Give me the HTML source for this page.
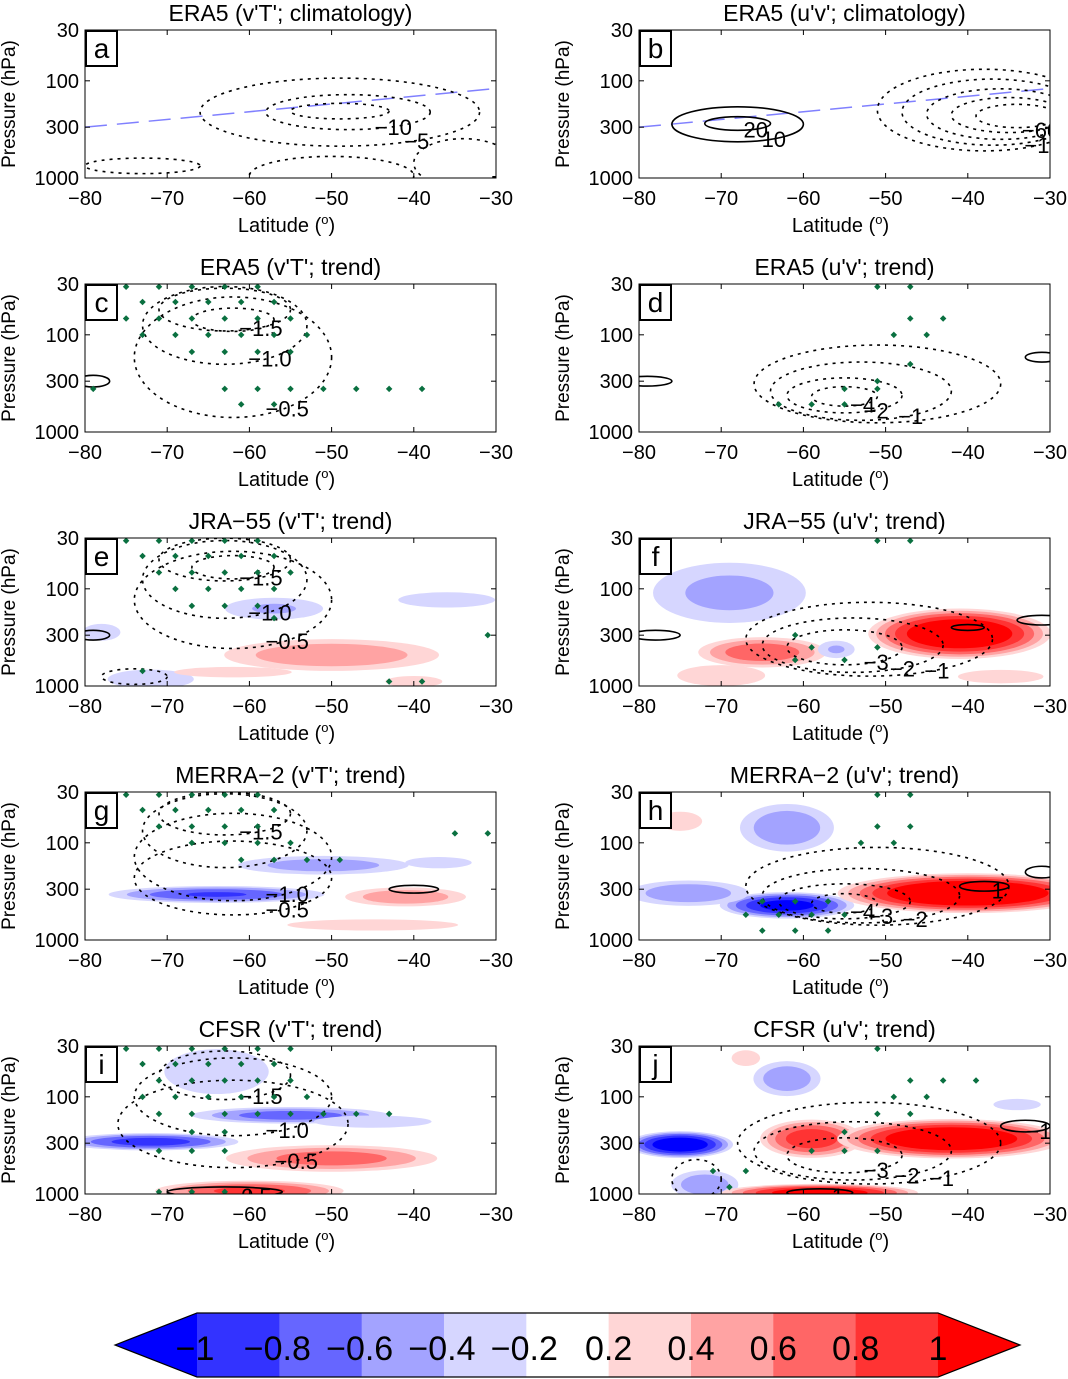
<!DOCTYPE html>
<html><head><meta charset="utf-8">
<style>
html,body{margin:0;padding:0;background:#fff;}
svg{display:block;font-family:"Liberation Sans",sans-serif;}
</style></head>
<body>
<svg id="fig" width="1068" height="1379" viewBox="0 0 1068 1379" xmlns="http://www.w3.org/2000/svg"></svg>
<script>
// ---- data ----
const panelLetters = ["a","b","c","d","e","f","g","h","i","j"];
const panelTitles = ["ERA5 (v'T'; climatology)","ERA5 (u'v'; climatology)","ERA5 (v'T'; trend)","ERA5 (u'v'; trend)","JRA\u221255 (v'T'; trend)","JRA\u221255 (u'v'; trend)","MERRA\u22122 (v'T'; trend)","MERRA\u22122 (u'v'; trend)","CFSR (v'T'; trend)","CFSR (u'v'; trend)"];
const latTicks = [-80,-70,-60,-50,-40,-30];
const presTicks = [30,100,300,1000];
const cbarLabels = ["\u22121","\u22120.8","\u22120.6","\u22120.4","\u22120.2","0.2","0.4","0.6","0.8","1"];
// shading blobs per panel: [lat, pressure, halfWidthDeg, halfHeightDecades, peakValue]
const shadeA = [];
const shadeB = [];
const shadeC = [];
const shadeD = [];
const shadeE = [[-57,160,8,0.15,-0.45],[-36,130,9,0.12,-0.35],[-50,480,16,0.2,0.6],[-78,280,4,0.15,-0.3],[-72,850,8,0.15,-0.35],[-62,720,16,0.12,0.25],[-40,900,6,0.1,0.3]];
const shadeF = [[-69,110,12,0.4,-0.5],[-41,290,12,0.28,1.4],[-65,450,9,0.18,0.8],[-56,420,3,0.12,-0.45],[-36,800,9,0.12,0.3],[-70,780,10,0.2,0.28]];
const shadeG = [[-64,340,15,0.1,-0.85],[-51,170,13,0.12,-0.55],[-41,360,9,0.12,0.6],[-45,700,18,0.1,0.3],[-37,160,7,0.1,-0.3]];
const shadeH = [[-62,440,9,0.15,-1.15],[-74,330,9,0.16,-0.6],[-62,70,7,0.3,-0.6],[-40,330,17,0.22,1.5],[-75,60,6,0.22,0.25]];
const shadeI = [[-72,290,12,0.1,-0.95],[-55,155,14,0.1,-0.75],[-64,55,11,0.4,-0.3],[-50,430,15,0.16,0.75],[-60,930,13,0.12,0.9],[-45,180,16,0.14,-0.25]];
const shadeJ = [[-75,310,7,0.15,-1.3],[-72,800,5,0.18,-0.6],[-62,65,5,0.22,-0.6],[-59,270,7,0.22,1.0],[-42,270,15,0.22,1.4],[-58,970,13,0.1,1.25],[-67,40,3,0.14,0.3],[-34,120,5,0.1,-0.3]];
// contours per panel: [lat, pressure, halfWidthDeg, halfHeightDecades, dashed, label]
const contA = [[-49,210,17,0.35,1,"\u22125"],[-48,210,10,0.18,1,"\u221210"],[-49,205,6,0.08,1,""],[-50,950,10,0.2,1,"\u221215"],[-73,750,7,0.08,1,""],[-34,700,6,0.25,1,"\u22125"]];
const contB = [[-68,280,8,0.18,0,"10"],[-68,275,4,0.07,0,"20"],[-38,200,13,0.42,1,"\u221210"],[-37,210,11,0.34,1,""],[-36,220,9,0.26,1,""],[-35,225,7,0.18,1,"\u221260"],[-34,230,5,0.12,1,""]];
const contC = [[-63,55,8,0.22,1,"\u22121.5"],[-62,70,5,0.12,1,""],[-63,80,10,0.4,1,"\u22121.0"],[-62,170,12,0.62,1,"\u22120.5"],[-79,300,2,0.06,0,""]];
const contD = [[-51,320,15,0.4,1,""],[-53,380,11,0.3,1,"\u22121"],[-55,420,7,0.18,1,"\u22122"],[-55,430,4,0.1,1,"\u22124"],[-79,300,3,0.05,0,""],[-31,170,2,0.05,0,""]];
const contE = [[-63,50,8,0.22,1,"\u22121.5"],[-62,60,5,0.12,1,""],[-63,80,10,0.4,1,"\u22121.0"],[-62,130,12,0.5,1,"\u22120.5"],[-74,800,4,0.08,1,""],[-79,300,2,0.05,0,""]];
const contF = [[-52,330,15,0.38,1,"\u22121"],[-54,380,11,0.28,1,"\u22122"],[-55,400,7,0.18,1,"\u22123"],[-78,300,3,0.05,0,""],[-31,210,3,0.05,0,""],[-40,250,2,0.03,0,""]];
const contG = [[-63,50,8,0.22,1,"\u22121.5"],[-63,75,10,0.38,1,""],[-62,140,12,0.45,1,"\u22121.0"],[-62,230,12,0.38,1,"\u22120.5"],[-40,300,3,0.04,0,""]];
const contH = [[-51,280,16,0.4,1,""],[-53,350,12,0.28,1,"\u22122"],[-55,400,8,0.18,1,"\u22123"],[-55,420,4,0.1,1,"\u22124"],[-38,280,3,0.05,0,"1"],[-31,200,2,0.06,0,""]];
const contI = [[-63,60,8,0.25,1,"\u22121.5"],[-62,100,12,0.4,1,"\u22121.0"],[-62,190,14,0.45,1,"\u22120.5"],[-63,950,7,0.05,0,"0.5"]];
const contJ = [[-52,300,16,0.42,1,"\u22121"],[-54,360,12,0.3,1,"\u22122"],[-55,400,7,0.18,1,"\u22123"],[-73,700,3,0.2,1,""],[-58,970,4,0.04,0,"1"],[-33,200,3,0.06,0,"\u22121"]];
// significance dots per panel: [lat, pressure]
const dotsA = [];
const dotsB = [];
const dotsC = [[-75,32],[-71,32],[-67,32],[-63,32],[-59,32],[-73,46],[-69,46],[-65,46],[-61,46],[-57,46],[-75,68],[-71,68],[-67,68],[-63,68],[-59,68],[-55,68],[-73,100],[-69,100],[-65,100],[-61,100],[-57,100],[-53,100],[-67,150],[-63,150],[-59,150],[-55,150],[-79,360],[-63,360],[-59,360],[-55,360],[-51,360],[-47,360],[-43,360],[-39,360],[-61,520],[-57,520]];
const dotsD = [[-51,32],[-47,32],[-47,68],[-43,68],[-49,100],[-45,100],[-47,200],[-51,300],[-55,360],[-51,360],[-59,520],[-55,520],[-63,520]];
const dotsE = [[-75,32],[-71,32],[-67,32],[-63,32],[-59,32],[-73,46],[-69,46],[-65,46],[-61,46],[-57,46],[-71,68],[-67,68],[-63,68],[-59,68],[-55,68],[-69,100],[-65,100],[-61,100],[-57,100],[-67,150],[-63,150],[-59,150],[-57,200],[-31,300],[-73,700],[-43,900],[-39,900]];
const dotsF = [[-51,32],[-47,32],[-61,300],[-59,400],[-51,400],[-61,540],[-55,540]];
const dotsG = [[-75,32],[-71,32],[-67,32],[-63,32],[-59,32],[-73,46],[-69,46],[-65,46],[-61,46],[-57,46],[-71,68],[-67,68],[-63,68],[-59,68],[-67,100],[-63,100],[-59,100],[-55,100],[-61,150],[-57,150],[-53,150],[-49,150],[-35,80],[-31,80]];
const dotsH = [[-51,32],[-47,32],[-51,68],[-47,68],[-53,100],[-49,100],[-65,400],[-61,400],[-57,400],[-67,550],[-63,550],[-59,550],[-55,550],[-65,800],[-61,800],[-57,800]];
const dotsI = [[-75,32],[-71,32],[-67,32],[-63,32],[-59,32],[-55,32],[-79,46],[-73,46],[-69,46],[-65,46],[-61,46],[-57,46],[-71,68],[-67,68],[-63,68],[-59,68],[-55,68],[-73,100],[-69,100],[-65,100],[-61,100],[-57,100],[-53,100],[-71,150],[-67,150],[-63,150],[-59,150],[-55,150],[-51,150],[-47,150],[-43,150],[-67,230],[-63,230],[-71,360],[-67,360],[-63,360],[-71,950],[-67,950],[-63,950]];
const dotsJ = [[-51,32],[-47,68],[-43,68],[-39,68],[-49,100],[-45,100],[-51,150],[-47,150],[-55,230],[-59,360],[-55,360],[-51,360],[-71,580],[-67,580],[-69,850]];
const tropoA = [[-80,300],[-30,120]];
const tropoB = [[-80,300],[-30,120]];

const shades=[shadeA,shadeB,shadeC,shadeD,shadeE,shadeF,shadeG,shadeH,shadeI,shadeJ];
const conts=[contA,contB,contC,contD,contE,contF,contG,contH,contI,contJ];
const dots=[dotsA,dotsB,dotsC,dotsD,dotsE,dotsF,dotsG,dotsH,dotsI,dotsJ];
const tropos=[tropoA,tropoB];

const NS="http://www.w3.org/2000/svg";
const svg=document.getElementById('fig');
function mk(tag,attrs,parent){const e=document.createElementNS(NS,tag);for(const k in attrs)e.setAttribute(k,attrs[k]);(parent||svg).appendChild(e);return e;}
const W=411,H=148;
const colX=[85,639], rowY=[30,284,538,792,1046];
const lp0=Math.log10(30), lpr=Math.log10(1000)-Math.log10(30);
const posCols=["#ffd6d6","#ffa3a3","#ff6666","#ff3333","#ff0000"];
const negCols=["#d6d6ff","#a3a3ff","#6666ff","#3333ff","#0000ff"];
const levels=[0.2,0.4,0.6,0.8,1.0];

for(let i=0;i<10;i++){
  const x0=colX[i%2], y0=rowY[Math.floor(i/2)];
  const xs=lat=>x0+(lat+80)/50*W;
  const ys=p=>y0+(Math.log10(p)-lp0)/lpr*H;
  const g=mk('g',{});
  
  
  const cp=mk('clipPath',{id:'cp'+i},g);
  mk('rect',{x:x0,y:y0,width:W,height:H},cp);
  const plot=mk('g',{'clip-path':'url(#cp'+i+')'},g);
  shades[i].forEach(b=>{
    const [lat,p,hw,hh,pk]=b;const a=Math.abs(pk);
    const cols=pk>0?posCols:negCols;
    levels.forEach((t,k)=>{
      if(t>=a)return;
      const r=Math.sqrt(1-t/a);
      const e=mk('ellipse',{cx:xs(lat),cy:ys(p),rx:hw*W/50*r,ry:hh/lpr*H*r,fill:cols[k]},plot);
      
      
    });
  });
  if(i<2){
    const t=tropos[i];
    const l=mk('line',{x1:xs(t[0][0]),y1:ys(t[0][1]),x2:xs(t[1][0]),y2:ys(t[1][1]),stroke:'#8080ff','stroke-width':1.5,'stroke-dasharray':'22 10'},plot);
    
    
  }
  conts[i].forEach(c=>{
    const [lat,p,hw,hh,d,lab]=c;
    const cx=xs(lat),cy=ys(p),rx=hw*W/50,ry=hh/lpr*H;
    const e=mk('ellipse',{cx:cx,cy:cy,rx:rx,ry:ry,fill:'none',stroke:'#000','stroke-width':1.6,'stroke-dasharray':d?'3 5':'none'},plot);
    
    
    if(lab){
      const t=mk('text',{x:cx+rx*0.55,y:cy+ry*0.85+8,'font-size':22,fill:'#000','text-anchor':'middle'},plot);
      t.textContent=lab;
      
      
    }
  });
  dots[i].forEach(d=>{
    const x=xs(d[0]),y=ys(d[1]);
    const r=mk('rect',{x:x-2.3,y:y-2.3,width:4.6,height:4.6,fill:'#0a7040',transform:'rotate(45 '+x+' '+y+')'},plot);
    
    
  });
  const fr=mk('rect',{x:x0,y:y0,width:W,height:H,fill:'none',stroke:'#000','stroke-width':1},g);
  
  
  latTicks.forEach(v=>{
    const x=xs(v);
    mk('line',{x1:x,y1:y0+H,x2:x,y2:y0+H-5,stroke:'#000'},g);
    mk('line',{x1:x,y1:y0,x2:x,y2:y0+5,stroke:'#000'},g);
    const t=mk('text',{x:x,y:y0+H+27,'font-size':20,'text-anchor':'middle'},g);
    t.textContent=v<0?'\u2212'+(-v):v;
    
    
  });
  presTicks.forEach(v=>{
    const y=ys(v);
    mk('line',{x1:x0,y1:y,x2:x0+5,y2:y,stroke:'#000'},g);
    mk('line',{x1:x0+W,y1:y,x2:x0+W-5,y2:y,stroke:'#000'},g);
    const t=mk('text',{x:x0-6,y:y+7,'font-size':20,'text-anchor':'end'},g);
    t.textContent=v;
    
    
  });
  const lb=mk('rect',{x:x0+1,y:y0+1,width:31,height:35,fill:'#fff',stroke:'#000','stroke-width':2},g);
  
  
  const lt=mk('text',{x:x0+16.5,y:y0+28,'font-size':28,'text-anchor':'middle'},g);
  lt.textContent=panelLetters[i];
  
  
  const tt=mk('text',{x:x0+W/2,y:y0-9,'font-size':23,'text-anchor':'middle'},g);
  tt.textContent=panelTitles[i];
  
  
  const xl=mk('text',{x:x0+W/2-4,y:y0+H+54,'font-size':20,'text-anchor':'middle'},g);
  xl.innerHTML='Latitude (<tspan dy="-8" font-size="13">o</tspan><tspan dy="8">)</tspan>';
  
  
  const yl=mk('text',{x:0,y:0,'font-size':19,'text-anchor':'middle',transform:'translate('+(x0-70)+','+(y0+H/2)+') rotate(-90)'},g);
  yl.textContent='Pressure (hPa)';
  
  
}

const cbg=mk('g',{});


const cbX0=197, cbStep=82.33, cbY=1313, cbH=64;
const segCols=["#3333ff","#6666ff","#a3a3ff","#d6d6ff","#ffffff","#ffd6d6","#ffa3a3","#ff6666","#ff3333"];
segCols.forEach((c,k)=>{
  const r=mk('rect',{x:cbX0+k*cbStep,y:cbY,width:cbStep+0.5,height:cbH,fill:c},cbg);
  
  
});
const lt1=mk('polygon',{points:`${cbX0},${cbY} 115,${cbY+cbH/2} ${cbX0},${cbY+cbH}`,fill:'#0000ff'},cbg);


const rEnd=cbX0+9*cbStep;
const rt1=mk('polygon',{points:`${rEnd},${cbY} 1020,${cbY+cbH/2} ${rEnd},${cbY+cbH}`,fill:'#ff0000'},cbg);


mk('polygon',{points:`115,${cbY+cbH/2} ${cbX0},${cbY} ${rEnd},${cbY} 1020,${cbY+cbH/2} ${rEnd},${cbY+cbH} ${cbX0},${cbY+cbH}`,fill:'none',stroke:'#000','stroke-width':1.2},cbg);
cbarLabels.forEach((s,k)=>{
  const t=mk('text',{x:cbX0+k*cbStep+(k<5?-2:0),y:cbY+47,'font-size':34,'text-anchor':'middle'},cbg);
  t.textContent=s;
  
  
});
</script>
</body></html>
